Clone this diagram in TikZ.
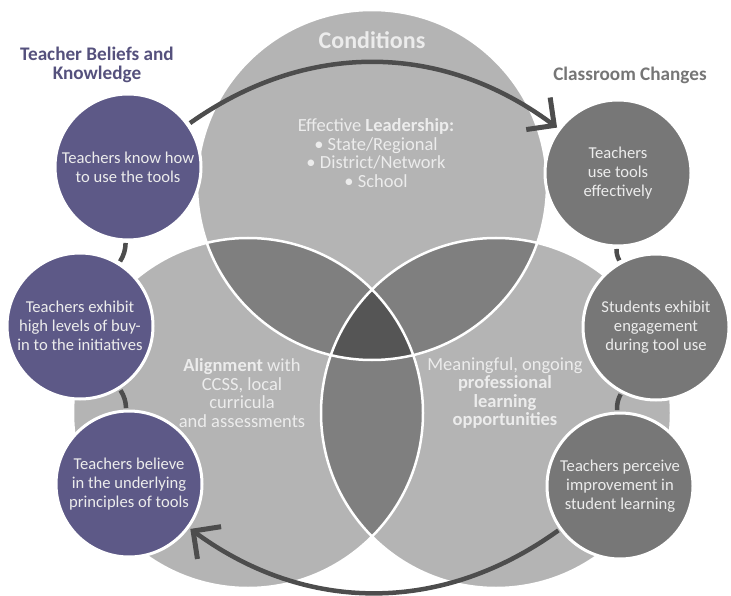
\documentclass[tikz,border=0pt]{standalone}
\usepackage{fontspec}
\setmainfont{Carlito}
\usetikzlibrary{arrows.meta}
\usetikzlibrary{calc}

\definecolor{vennfill}{RGB}{180,180,180}
\definecolor{pairfill}{RGB}{127,127,127}
\definecolor{corefill}{RGB}{85,85,85}
\definecolor{beliefs}{RGB}{93,89,135}
\definecolor{changes}{RGB}{119,119,119}
\definecolor{linkgray}{RGB}{77,77,77}
\definecolor{headgray}{RGB}{118,118,118}
\definecolor{headpurple}{RGB}{85,81,125}
\definecolor{softwhite}{RGB}{236,236,236}

\begin{document}
\begin{tikzpicture}[x=1pt, y=-1pt]

  \useasboundingbox (0,0) rectangle (731,596);

  \path
    let
     \n{mid}  = {372},
     \n{lens} = {124}
    in
     coordinate (cond)     at (\n{mid},         185)
     coordinate (align)    at (\n{mid}-\n{lens}, 413)
     coordinate (learn)    at (\n{mid}+\n{lens}, 413)
     coordinate (know)     at (128, 167)
     coordinate (buyin)    at ( 80, 326)
     coordinate (believe)  at (129, 484)
     coordinate (tools)    at (618, 173)
     coordinate (engage)   at (656, 327)
     coordinate (perceive) at (620, 486)
    ;

  % Venn circles
  \tikzset{vennstyle/.style = {shape=circle, minimum size=350pt, inner sep=0pt, fill=vennfill}}
  \node [vennstyle] (Cond) at (cond) {};
  \node [vennstyle] (Align) at (align) {};
  \node [vennstyle] (Learn) at (learn) {};

  % Overlaps
  \begin{scope}
    \clip (cond) circle [radius=175pt];
    \fill [pairfill] (align) circle [radius=175pt];
    \fill [pairfill] (learn) circle [radius=175pt];
  \end{scope}
  \begin{scope}
    \clip (align) circle [radius=175pt];
    \fill [pairfill] (learn) circle [radius=175pt];
    \clip (learn) circle [radius=175pt];
    \fill [corefill] (cond) circle [radius=175pt];
  \end{scope}
  \draw [white, line width=2.5pt] (cond) circle [radius=175pt]
    (align) circle [radius=175pt] (learn) circle [radius=175pt];

  % Venn texts
  \tikzset{venntext/.style = {text=softwhite, align=center, inner sep=0pt, font=\fontsize{18.5}{18.5}\selectfont}}
  \node [text=softwhite, font=\fontsize{24}{24}\selectfont\bfseries] (Title) at (372,40) {Conditions};
  \node [venntext] (Lead) at (376,153) {Effective \textbf{Leadership:}\\\textbullet\ State/Regional\\\textbullet\ District/Network\\\textbullet\ School};
  \node [venntext] (Alignment) at (242,393) {\textbf{Alignment} with\\CCSS, local\\curricula\\and assessments};
  \node [venntext] (Learning) at (505,393) {Meaningful, ongoing\\\textbf{professional}\\\textbf{learning}\\\textbf{opportunities}};

  % Headings
  \tikzset{headstyle/.style = {align=center, inner sep=0pt, font=\fontsize{19.2}{19.5}\selectfont\bfseries}}
  \node [headstyle, text=headpurple] (Beliefs) at (97,65) {Teacher Beliefs and\\Knowledge};
  \node [headstyle, text=headgray] (Changes) at (630,75) {Classroom Changes};

  % Outer circles
  \tikzset{stepstyle/.style = {shape=circle, draw=white, line width=3pt, minimum size=146pt, inner sep=0pt,
      align=center, text=softwhite, font=\fontsize{16.6}{19}\selectfont}}

  \node [stepstyle, fill=beliefs] (Know) at (know) {Teachers know how\\to use the tools};
  \node [stepstyle, fill=beliefs] (Buyin) at (buyin) {Teachers exhibit\\high levels of buy-\\in to the initiatives};
  \node [stepstyle, fill=beliefs] (Believe) at (believe) {Teachers believe\\in the underlying\\principles of tools};
  \node [stepstyle, fill=changes] (Tools) at (tools) {Teachers\\use tools\\effectively};
  \node [stepstyle, fill=changes] (Engage) at (engage) {Students exhibit\\engagement\\during tool use};
  \node [stepstyle, fill=changes] (Perceive) at (perceive) {Teachers perceive\\improvement in\\student learning};

  % Connecting arrows
  \tikzset{linkstyle/.style = {draw=linkgray, line width=4.5pt, shorten <=1.5pt, shorten >=1.5pt}}
  \tikzset{cyclestyle/.style = {linkstyle, arrows={-Straight Barb[length=20pt 0 0, width=40pt 0 0, line width=5pt 0 0]}}}

  \path [linkstyle] (Know) to [bend left=15] (Buyin);
  \path [linkstyle] (Buyin) to [bend left=15] (Believe);
  \path [linkstyle] (Tools) to [bend right=15] (Engage);
  \path [linkstyle] (Engage) to [bend right=15] (Perceive);

  \path [cyclestyle] (Know) to [bend left=36] (Tools);
  \path [cyclestyle] (Perceive) to [bend left=36] (Believe);

\end{tikzpicture}
\end{document}
